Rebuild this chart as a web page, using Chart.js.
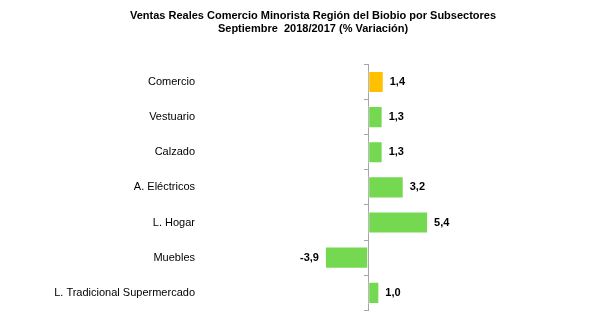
<!DOCTYPE html>
<html>
<head>
<meta charset="utf-8">
<script src="https://cdn.jsdelivr.net/npm/chart.js@4/dist/chart.umd.min.js"></script>
<style>
  html, body { margin: 0; padding: 0; background: #fff; }
  #wrap { width: 589px; height: 326px; position: relative; }
</style>
</head>
<body>
<div id="wrap"><canvas id="salesChart"></canvas></div>
<script>
// Data
const subsectors = ['Comercio', 'Vestuario', 'Calzado', 'A. Eléctricos', 'L. Hogar', 'Muebles', 'L. Tradicional Supermercado'];
const variation = [1.4, 1.3, 1.3, 3.2, 5.4, -3.9, 1.0];
const barColors = ['#FFC000', '#74D850', '#74D850', '#74D850', '#74D850', '#74D850', '#74D850'];

Chart.defaults.font.family = "'Liberation Sans', Arial, sans-serif";
Chart.defaults.color = '#000';

// value labels next to each bar, comma decimal
const valueLabels = {
    id: 'valueLabels',
    afterDatasetsDraw(chart) {
        const ctx = chart.ctx;
        const meta = chart.getDatasetMeta(0);
        ctx.save();
        ctx.font = "bold 11px 'Liberation Sans', Arial, sans-serif";
        ctx.fillStyle = '#000';
        ctx.textBaseline = 'middle';
        meta.data.forEach((bar, i) => {
            const v = variation[i];
            const txt = v.toFixed(1).replace('.', ',');
            if (v >= 0) {
                ctx.textAlign = 'left';
                ctx.fillText(txt, bar.x + 6, bar.y);
            } else {
                ctx.textAlign = 'right';
                ctx.fillText(txt, bar.x - 6, bar.y);
            }
        });
        ctx.restore();
    }
};

const ctx = document.getElementById('salesChart').getContext('2d');
new Chart(ctx, {
    type: 'bar',
    data: {
        labels: subsectors,
        datasets: [{
            data: variation,
            backgroundColor: barColors,
            borderColor: 'rgba(255,255,255,0.35)',
            borderWidth: 1,
            borderSkipped: false,
            categoryPercentage: 1,
            barPercentage: 0.63
        }]
    },
    options: {
        indexAxis: 'y',
        responsive: true,
        maintainAspectRatio: false,
        animation: false,
        layout: { padding: { left: 37, right: 0, top: 0, bottom: 12 } },
        plugins: {
            legend: { display: false },
            tooltip: { enabled: false },
            title: {
                display: true,
                text: ['Ventas Reales Comercio Minorista Región del Biobio por Subsectores', 'Septiembre  2018/2017 (% Variación)'],
                font: { size: 11, weight: 'bold' },
                color: '#000',
                lineHeight: 1.2,
                padding: { top: 9, bottom: 29 }
            }
        },
        scales: {
            x: {
                display: false,
                min: -14.8,
                max: 19.9
            },
            y: {
                position: 'left',
                grid: { display: false, drawTicks: false },
                border: { display: false },
                ticks: { font: { size: 11 }, color: '#000', padding: 9 },
                afterFit(scale) { scale.width = 167; }
            },
            yAxisLine: {
                type: 'category',
                axis: 'y',
                labels: subsectors,
                position: { x: 0 },
                offset: true,
                ticks: { display: false },
                grid: { offset: true, drawOnChartArea: false, tickLength: 4, color: '#A6A6A6' },
                border: { display: true, color: '#A6A6A6', width: 1 }
            }
        }
    },
    plugins: [valueLabels]
});
</script>
</body>
</html>
